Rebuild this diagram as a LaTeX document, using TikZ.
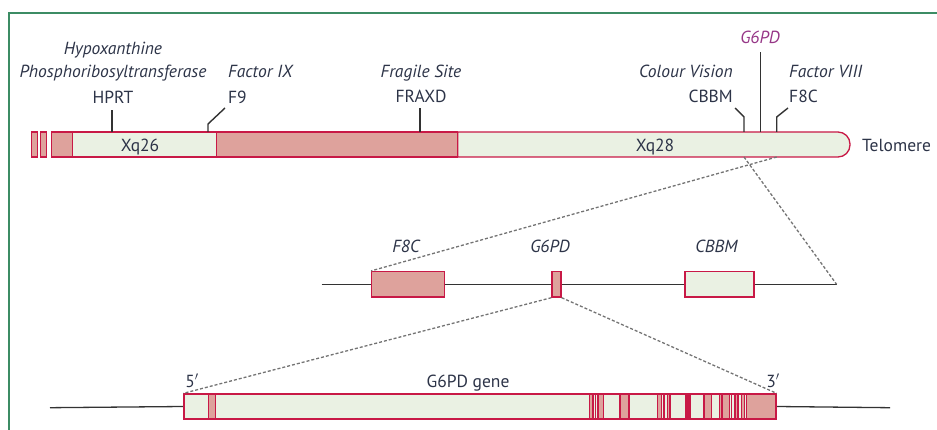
\documentclass[tikz,border=0pt]{standalone}
\usepackage{fontspec}
\setmainfont{PT Sans}
\definecolor{frame}{RGB}{60,140,100}
\definecolor{crim}{RGB}{200,25,70}
\definecolor{pinkf}{RGB}{222,162,156}
\definecolor{lightf}{RGB}{234,241,227}
\definecolor{txt}{RGB}{45,52,72}
\definecolor{purp}{RGB}{150,55,135}
\definecolor{tick}{RGB}{50,50,50}
\begin{document}
\begin{tikzpicture}[x=1pt,y=-1pt,
  lbl/.style={font=\fontsize{17.5}{17.5}\selectfont\itshape, text=txt, inner sep=0pt, anchor=base},
  sym/.style={font=\fontsize{17.5}{17.5}\selectfont, text=txt, inner sep=0pt, anchor=base},
  pinkbox/.style={fill=pinkf, draw=crim, line width=1.3pt},
  lightbox/.style={fill=lightf, draw=crim, line width=1.3pt},
  tickline/.style={draw=tick, line width=1.4pt},
  zoomline/.style={draw=black!55, line width=1.3pt, dash pattern=on 3pt off 2pt},
  dnaline/.style={draw=black!80, line width=1.3pt}]
\useasboundingbox (0,0) rectangle (937,430);
\clip (0,0) rectangle (937,430);
\draw[frame, line width=2pt] (9,13) rectangle (945,445);

% ---------- chromosome ----------
\filldraw[pinkbox] (31.7,132) rectangle (37.7,157);
\filldraw[pinkbox] (40.7,132) rectangle (46.7,157);
\filldraw[pinkbox] (51.7,132) rectangle (72.3,157);
\filldraw[lightbox] (72.3,132) rectangle (216.7,157);
\filldraw[pinkbox] (216.7,132) rectangle (457.7,157);
\filldraw[lightbox] (457.7,157) -- (457.7,132) [rounded corners=12pt] -- (850,132) -- (850,157) [sharp corners] -- cycle;
\node[sym] at (140,151.7) {Xq26};
\node[sym] at (655,151.7) {Xq28};
\node[sym, anchor=base west] (telo) at (862,152) {Telomere};

% tick coordinates
\coordinate (hprtB) at (112,132); \coordinate (hprtT) at (112,110);
\coordinate (f9B) at (208,132); \coordinate (f9K) at (208,124); \coordinate (f9T) at (225,108);
\coordinate (fraxB) at (420,132); \coordinate (fraxT) at (420,108);
\coordinate (cbbmB) at (744,132); \coordinate (cbbmK) at (744,117); \coordinate (cbbmT) at (735,108);
\coordinate (g6B) at (760.7,132); \coordinate (g6T) at (760.7,52);
\coordinate (f8B) at (776.7,132); \coordinate (f8K) at (776.7,117); \coordinate (f8T) at (788,108);
\draw[tickline] (hprtB) -- (hprtT);
\draw[tickline] (f9B) -- (f9K) -- (f9T);
\draw[tickline] (fraxB) -- (fraxT);
\draw[tickline] (cbbmB) -- (cbbmK) -- (cbbmT);
\draw[tickline] (g6B) -- (g6T);
\draw[tickline] (f8B) -- (f8K) -- (f8T);

% labels
\node[lbl] (hyp) at (113,55) {Hypoxanthine};
\node[lbl] (phos) at (113,78) {Phosphoribosyltransferase};
\node[sym] (hprt) at (113,104) {HPRT};
\node[lbl, anchor=base west] (fix) at (228,78) {Factor IX};
\node[sym, anchor=base west] (f9) at (228,104) {F9};
\node[lbl] (frag) at (421,78) {Fragile Site};
\node[sym] (fraxd) at (421,103) {FRAXD};
\node[lbl, text=purp] (g6pd) at (760,43.5) {G6PD};
\node[lbl, anchor=base east] (colv) at (733,78) {Colour Vision};
\node[sym, anchor=base east] (cbbm) at (733,103) {CBBM};
\node[lbl, anchor=base west] (f8) at (789,78) {Factor VIII};
\node[sym, anchor=base west] (f8c) at (789,103) {F8C};

% ---------- middle region ----------
\coordinate (midL) at (321.5,284.3);
\coordinate (midR) at (836.6,284.3);
\draw[dnaline] (midL) -- (midR);
\node[pinkbox, inner sep=0pt, minimum width=72.5pt, minimum height=25.5pt] (f8cbox) at (408,284.3) {};
\node[pinkbox, inner sep=0pt, minimum width=9pt, minimum height=25.5pt] (g6box) at (556.5,284.3) {};
\node[lightbox, inner sep=0pt, minimum width=69pt, minimum height=25.5pt] (cbbmbox) at (719.4,284.3) {};
\node[lbl] (mf8c) at (406,253) {F8C};
\node[lbl] (mg6) at (550,253) {G6PD};
\node[lbl] (mcbbm) at (716.4,253) {CBBM};
\draw[zoomline] (f8B |- 0,157) coordinate (f8D) -- (f8cbox.north west);
\draw[zoomline] (cbbmB |- 0,157) coordinate (cbD) -- (midR);

% ---------- gene ----------
\coordinate (gL) at (50,407.7);
\coordinate (gR) at (890,407.7);
\node[lightbox, inner sep=0pt, minimum width=592pt, minimum height=25pt] (gene) at (480,406.5) {};
\draw[dnaline] (gL) -- (gene.west);
\draw[dnaline] (gene.east) -- (gR);
\foreach \a/\b in {208.3/215.7, 589.5/593, 598/603.8, 620/629, 657.3/661.7, 667.3/670, 704/711.3, 719.7/729.7, 735/738, 741.5/744.7, 746.3/776}
  \filldraw[pinkbox, line width=1.1pt] (\a,394) rectangle (\b,419);
\foreach \a in {595.5, 664, 722, 731.5}
  \draw[crim, line width=1.1pt] (\a,394) -- (\a,419);
\filldraw[fill=crim, draw=crim, line width=1.1pt] (685.3,394) rectangle (690.7,419);
\draw[crim, line width=1.3pt] (gene.north west) rectangle (gene.south east);
\node[sym] (five) at (192,387) {5$'$};
\node[sym] (genelbl) at (468,387) {G6PD gene};
\node[sym] (three) at (773,387) {3$'$};
\draw[zoomline] (g6box.south west) -- (gene.north west);
\draw[zoomline] (g6box.south east) -- (gene.north east);
\end{tikzpicture}
\end{document}
